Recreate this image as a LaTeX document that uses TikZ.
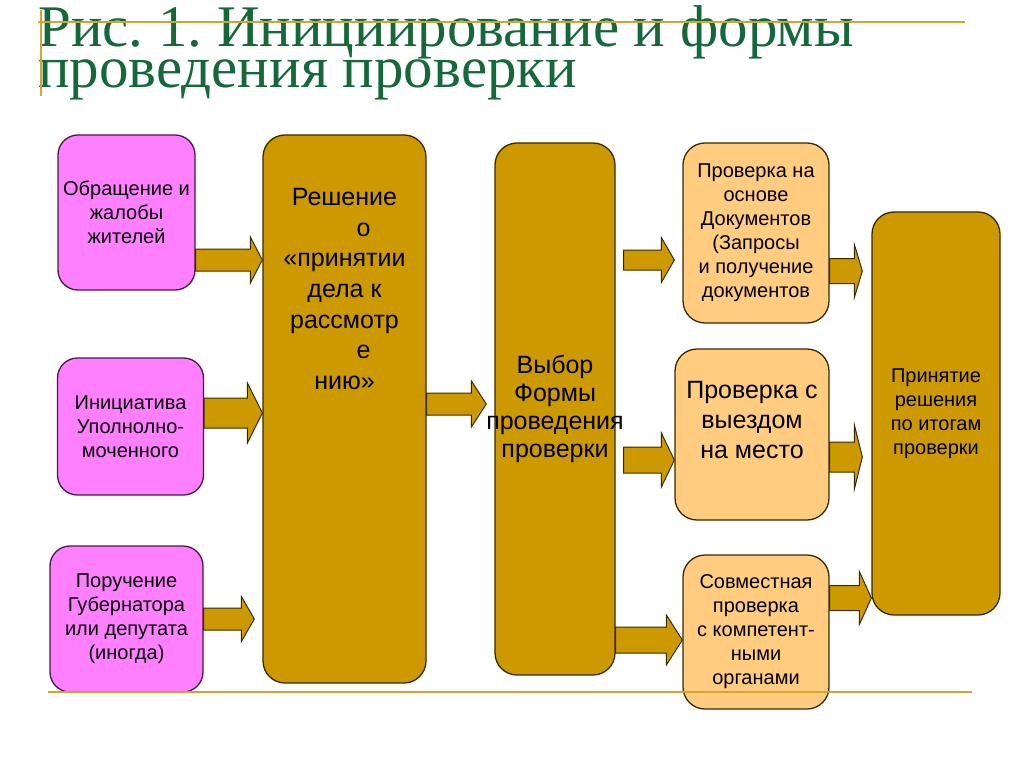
\documentclass[tikz,border=0pt]{standalone}
\usepackage{fontspec}
\setmainfont{Liberation Sans}
\newfontfamily\titlefont{Liberation Serif}
\usetikzlibrary{positioning, calc}
\frenchspacing

\definecolor{pinkfill}{HTML}{FF80FF}
\definecolor{pinkedge}{HTML}{4A1A4A}
\definecolor{gold}{HTML}{CC9900}
\definecolor{goldedge}{HTML}{3A2A00}
\definecolor{peach}{HTML}{FFCC80}
\definecolor{titlegreen}{HTML}{15683A}
\definecolor{rulecol}{HTML}{D4A52A}

\begin{document}
\begin{tikzpicture}[x=1pt, y=-1pt,
  src/.style={draw=pinkedge, fill=pinkfill, rounded corners=20pt, line width=1.3pt, align=center, inner sep=0pt, font=\fontsize{20}{24}\selectfont},
  stage/.style={draw=goldedge, fill=gold, rounded corners=22pt, line width=1.3pt, align=center, inner sep=0pt, font=\fontsize{25}{30}\selectfont},
  form/.style={draw=goldedge, fill=peach, rounded corners=22pt, line width=1.3pt, align=center, inner sep=0pt, font=\fontsize{20}{24}\selectfont},
  txt/.style={align=center, inner sep=0pt},
  blk/.style n args={3}{draw=goldedge, fill=gold, line width=1pt, to path={
    let \p1=(\tikztostart), \p2=(\tikztotarget) in
    (\x1,\y1+#1) -- (\x2-#3,\y1+#1) -- (\x2-#3,\y1+#2) -- (\x2,\y1)
    -- (\x2-#3,\y1-#2) -- (\x2-#3,\y1-#1) -- (\x1,\y1-#1) -- cycle}},
  rulel/.style={draw=rulecol, line width=2.5pt},
]
\useasboundingbox (0,0) rectangle (1024,767);

% title
\node[anchor=base west, align=left, inner sep=0pt, text=titlegreen,
      font=\titlefont\fontsize{59}{39}\selectfont] (title) at (38,88)
  {Рис. 1. Инициирование и формы\\проведения проверки};
\draw[rulel] (38,22) -- (965,22);
\draw[rulel] (41,10) -- (41,96);

% initiators
\node[src, minimum width=137, minimum height=155] (appeal) at (126.5,212.5)
  {Обращение и\\жалобы\\жителей};
\node[src, minimum width=146, minimum height=137] (ombud) at (130.5,426.5)
  {Инициатива\\Уполнолно-\\моченного};
\node[src, minimum width=153, minimum height=146] (order) at (126.5,619)
  {Поручение\\Губернатора\\или депутата\\(иногда)};

% decision and choice
\node[stage, minimum width=163, minimum height=548] (decide) at (344.5,409) {};
\node[txt, font=\fontsize{25}{30.7}\selectfont] (decidetxt) at ($(decide.center)+(0,-120)$)
  {Решение\\\hspace*{38pt}о\\«принятии\\дела к\\рассмотр\\\hspace*{38pt}е\\нию»};
\node[stage, minimum width=120, minimum height=532] (choose) at (555,409) {};
\node[txt, font=\fontsize{25}{28}\selectfont] (choosetxt) at (choose.center)
  {Выбор\\Формы\\проведения\\проверки};

% forms of inspection
\node[form, minimum width=146, minimum height=180] (docs) at (756,233)
  {Проверка на\\основе\\Документов\\(Запросы\hspace*{20pt}\\и получение\\документов};
\node[form, minimum width=154, minimum height=171] (visit) at (752,434.5) {};
\node[txt, font=\fontsize{25}{30}\selectfont] (visittxt) at ($(visit.center)+(0,-14)$)
  {Проверка с\\выездом\\на место};
\node[form, minimum width=146, minimum height=154] (joint) at (756,632)
  {Совместная\\проверка\\с компетент-\\ными\\органами};

% result
\node[stage, minimum width=128, minimum height=403, font=\fontsize{20}{24}\selectfont] (result) at (936,413.5)
  {Принятие\\решения\\по итогам\\проверки};

% block arrows
\draw[blk={11pt}{23pt}{12pt}] (appeal.east |- 0,260) to (decide.west |- 0,260);
\draw[blk={15pt}{30pt}{15pt}] (ombud.east |- 0,413) to (decide.west |- 0,413);
\draw[blk={11pt}{22.5pt}{13pt}] (order.east |- 0,619) to ($(decide.west |- 0,619)+(-8,0)$);
\draw[blk={11pt}{23pt}{15pt}] (decide.east |- 0,404) to ($(choose.west |- 0,404)+(-8,0)$);
\draw[blk={10pt}{22.5pt}{13pt}] ($(choose.east |- 0,260)+(8,0)$) to ($(docs.west |- 0,260)+(-8,0)$);
\draw[blk={13pt}{27pt}{13pt}] ($(choose.east |- 0,460)+(8,0)$) to (visit.west |- 0,460);
\draw[blk={13pt}{25pt}{16pt}] (choose.east |- 0,640) to (joint.west |- 0,640);
\draw[blk={12.5pt}{26.5pt}{8pt}] (docs.east |- 0,271) to ($(result.west |- 0,271)+(-9,0)$);
\draw[blk={15pt}{32pt}{8pt}] (visit.east |- 0,457) to ($(result.west |- 0,457)+(-9,0)$);
\draw[blk={12.5pt}{26.5pt}{12pt}] (joint.east |- 0,598) to (result.west |- 0,598);

\draw[rulel] (48,692) -- (972,692);
\end{tikzpicture}
\end{document}
